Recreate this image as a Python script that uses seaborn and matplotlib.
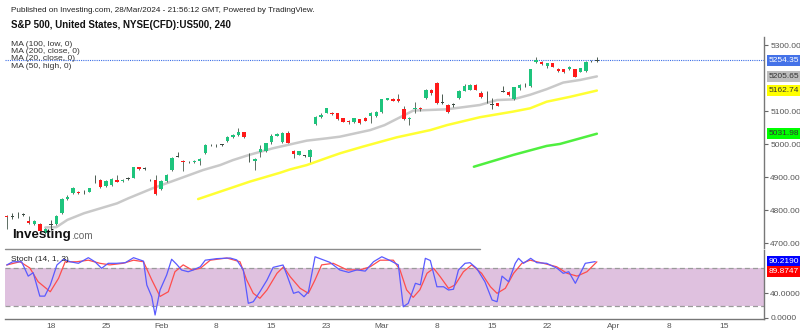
import matplotlib
matplotlib.use("Agg")
import matplotlib.pyplot as plt
from matplotlib.lines import Line2D
import seaborn as sns
import numpy as np
import pandas as pd

# ---------------- data ----------------
opens = [4784, 4780, 4788, 4789, 4767, 4759, 4760, 4731, 4756, 4758,
         4792, 4835, 4852, 4856, 4855, 4856, 4888, 4891, 4874, 4876,
         4892, 4889, 4896, 4899, 4930, 4926, 4893, 4892, 4865, 4889,
         4922, 4962, 4950, 4946, 4946, 4950, 4975, 4997, 4998, 4998,
         5010, 5021, 5028, 5036, 4953, 4950, 4978, 4980, 5008, 5026,
         5006, 5035, 4980, 4969, 4966, 4962, 5060, 5084, 5096, 5096,
         5094, 5079, 5072, 5067, 5076, 5079, 5087, 5086, 5098, 5135,
         5137, 5137, 5107, 5076, 5108, 5111, 5141, 5164, 5187, 5125,
         5119, 5120, 5139, 5162, 5165, 5180, 5154, 5154, 5121, 5124,
         5160, 5159, 5137, 5170, 5176, 5177, 5248, 5249, 5238, 5245,
         5228, 5227, 5228, 5227, 5220, 5222, 5252, 5253]
closes = [4779, 4782, 4789, 4787, 4761, 4767, 4738, 4742, 4758, 4783,
          4834, 4841, 4867, 4851, 4856, 4867, 4889, 4870, 4890, 4895,
          4887, 4893, 4897, 4930, 4924, 4927, 4891, 4848, 4889, 4907,
          4958, 4963, 4946, 4947, 4950, 4955, 4998, 4998, 4997, 5000,
          5023, 5029, 5037, 5023, 4952, 4955, 4985, 5003, 5025, 5031,
          5035, 5005, 4970, 4979, 4965, 4983, 5083, 5089, 5109, 5091,
          5077, 5068, 5067, 5079, 5064, 5072, 5096, 5099, 5136, 5139,
          5132, 5130, 5076, 5081, 5111, 5106, 5164, 5154, 5124, 5126,
          5099, 5121, 5162, 5177, 5179, 5165, 5142, 5156, 5119, 5117,
          5161, 5149, 5173, 5180, 5177, 5227, 5255, 5242, 5245, 5235,
          5222, 5218, 5233, 5205, 5230, 5249, 5253, 5254.35]
highs = [4786, 4791, 4795, 4792, 4784, 4770, 4762, 4745, 4770, 4785,
         4836, 4845, 4872, 4858, 4860, 4869, 4906, 4894, 4892, 4899,
         4908, 4896, 4900, 4932, 4932, 4932, 4896, 4906, 4891, 4909,
         4960, 4976, 4952, 4950, 4952, 4957, 5000, 5000, 5001, 5002,
         5025, 5031, 5048, 5038, 4973, 4958, 4998, 5005, 5030, 5033,
         5037, 5040, 4982, 4981, 4968, 4985, 5085, 5096, 5111, 5098,
         5096, 5081, 5074, 5081, 5078, 5082, 5098, 5100, 5138, 5141,
         5139, 5151, 5115, 5083, 5129, 5113, 5166, 5166, 5190, 5152,
         5121, 5126, 5164, 5182, 5182, 5182, 5161, 5161, 5139, 5126,
         5176, 5162, 5175, 5182, 5187, 5229, 5264, 5251, 5247, 5247,
         5230, 5229, 5237, 5229, 5232, 5251, 5256, 5264]
lows = [4743, 4773, 4778, 4782, 4759, 4755, 4733, 4728, 4740, 4756,
        4790, 4832, 4848, 4848, 4850, 4854, 4884, 4868, 4871, 4873,
        4885, 4886, 4893, 4897, 4921, 4921, 4889, 4846, 4860, 4887,
        4920, 4960, 4920, 4943, 4943, 4937, 4972, 4995, 4992, 4996,
        5008, 5019, 5026, 5020, 4947, 4922, 4961, 4978, 5001, 5024,
        5004, 5003, 4958, 4967, 4962, 4947, 5058, 5081, 5094, 5089,
        5073, 5066, 5061, 5065, 5062, 5070, 5064, 5084, 5096, 5133,
        5130, 5128, 5074, 5058, 5096, 5100, 5138, 5150, 5122, 5123,
        5094, 5114, 5137, 5160, 5163, 5163, 5140, 5126, 5107, 5115,
        5157, 5147, 5135, 5164, 5174, 5175, 5246, 5240, 5232, 5233,
        5220, 5216, 5226, 5203, 5218, 5220, 5250, 5250]

ma20_bar = [7, 9, 11, 14, 17, 20, 22, 26.5, 31, 35.6, 38.7, 41, 44, 48.3, 54.4,
            58, 60.4, 65.9, 68.5, 73.7, 79.8, 85.8, 88.9, 91.8, 94.9, 97.9, 100.9, 104, 107]
ma20_val = [4748, 4749, 4771, 4791, 4806, 4821, 4836, 4867, 4894, 4922, 4937, 4952, 4968, 4988, 5011,
            5018, 5023, 5043, 5058, 5102, 5106, 5119, 5134, 5136, 5150, 5167, 5187, 5195, 5205.65]
ma50_bar = [34.7, 44.1, 49.6, 51.4, 54.4, 58.6, 60.5, 64.6, 70.7, 76.8, 79.8, 85.8, 91.8, 94.9, 97.9, 102.2, 107]
ma50_val = [4834, 4887, 4914, 4924, 4937, 4962, 4973, 4993, 5021, 5043, 5058, 5082, 5099, 5109, 5129, 5144, 5162.74]
ma100_bar = [84.7, 91.9, 97.9, 100.3, 107]
ma100_val = [4932, 4968, 4995, 5001, 5031.98]

k_bar = [0, 1.1, 2.7, 3.9, 4.8, 6.0, 6.9, 7.9, 9.1, 10.3, 11.5, 13.0, 14.8, 16.0, 17.2, 18.4, 19.9,
         21.5, 23.0, 24.8, 25.4, 26.3, 26.9, 27.8, 29.0, 29.9, 30.8, 31.7, 32.9, 33.8, 35.1, 36.0,
         38.1, 40.5, 41.7, 42.9, 43.8, 44.7, 45.9, 47.2, 48.3, 50.1, 50.8, 52.0, 52.9, 53.9, 54.7,
         55.9, 57.1, 58.6, 60.4, 62.0, 63.5, 65.0, 66.5, 68.0, 69.5, 71.0, 71.9, 72.8, 74.1, 75.0,
         75.9, 76.8, 78.0, 79.2, 80.1, 81.0, 81.9, 83.1, 84.0, 85.2, 86.7, 88.0, 88.9, 89.8, 91.0,
         92.2, 92.8, 93.7, 95.0, 96.1, 97.9, 99.8, 100.9, 101.9, 103.1, 104.9, 106.7]
k_val = [84.8, 90, 90, 67, 72.5, 35, 35, 52.8, 84.8, 94, 90, 87.5, 96.5, 90, 79.5, 87.5, 87.5,
         88.5, 96.5, 91, 52.8, 34, 4.8, 44.8, 68.8, 94, 86, 76.8, 74, 76.8, 82, 92.5,
         95, 96, 93, 76.8, 23.5, 26, 42, 60.8, 81, 84.8, 68.8, 39.5, 42, 34, 42,
         98, 94, 89, 76.8, 73, 77, 75, 90, 98, 92, 85, 18, 23.5, 55.5, 53,
         95.5, 92, 50, 50, 44.8, 46, 76.8, 87.5, 88.5, 79.5, 58, 28.8, 26, 67, 58,
         87.5, 95.5, 87.5, 95.5, 88.5, 87.5, 79.5, 71.5, 74, 55.5, 87.5, 90.219]
d_bar = [0, 2.4, 4.2, 5.7, 7.9, 9.4, 10.6, 12.7, 14.8, 16.9, 18.7, 21.1, 23.0, 24.8, 26.3, 27.8,
         29.3, 30.5, 32.0, 33.6, 35.1, 36.9, 39.9, 42.3, 43.5, 44.7, 45.9, 47.2, 49.0, 50.2, 51.4,
         53.2, 54.7, 55.9, 57.1, 59.2, 61.7, 64.1, 65.9, 67.7, 70.1, 71.3, 72.5, 73.7, 74.9, 76.2,
         77.4, 78.6, 80.1, 81.3, 82.8, 84.3, 86.1, 87.7, 88.9, 90.4, 91.9, 93.4, 94.9, 97.3, 99.7,
         101.6, 103.4, 105.2, 107]
d_val = [84.8, 90, 80, 58, 42, 63.5, 90, 90, 92.5, 87.5, 85, 87.5, 92.5, 90, 61, 34.5,
         42, 74, 85, 76.8, 79.5, 92.5, 96, 90, 61, 39.5, 31.5, 45, 71.5, 82, 66,
         47.5, 39.5, 61, 85, 87.5, 77, 77, 82, 92.5, 92.5, 77, 45, 33, 45, 71.5,
         79.5, 66, 47.5, 53, 74, 85, 71.5, 50, 39.5, 47.5, 71.5, 87.5, 92.5, 87.5, 82,
         71.5, 67, 74, 89.8747]

date_tick_bars = [8, 18, 28, 38, 48, 58, 68, 78, 88, 98, 110, 120, 130]
date_tick_labels = ["18", "25", "Feb", "8", "15", "23", "Mar", "8", "15", "22", "Apr", "8", "15"]
price_ticks = [4700, 4800, 4900, 5000, 5100, 5300]
stoch_ticks = [0, 40]
last_price = 5254.35
ma_labels = ["MA (100, low, 0)", "MA (200, close, 0)", "MA (20, close, 0)", "MA (50, high, 0)"]

# ---------------- figure ----------------
sns.set_theme(style="white")
plt.rcParams['font.family'] = ['Liberation Sans', 'DejaVu Sans']

W, H = 800, 334
fig = plt.figure(figsize=(8, 3.34), dpi=100)
fig.patch.set_facecolor("white")

X0, X1 = 5, 764
ax = fig.add_axes([X0 / W, 1 - 248 / H, (X1 - X0) / W, (248 - 37) / H])
axs = fig.add_axes([X0 / W, 1 - 319 / H, (X1 - X0) / W, (319 - 250) / H])
XL = (-0.31, 137.3)

UP, DN, DOJI = "#1EC47D", "#FF1A1A", "#3d4a42"
bars = pd.DataFrame({"o": opens, "h": highs, "l": lows, "c": closes})
bars["i"] = np.arange(len(bars))
for _, r in bars.iterrows():
    diff = r.c - r.o
    if abs(diff) < 2.5:
        col = DOJI
        wcol = "#4a5a50"
    else:
        col = UP if diff > 0 else DN
        wcol = "#5d6e63"
    ax.vlines(r.i, r.l, r.h, color=wcol, lw=0.7, zorder=2)
    h = max(abs(diff), 2.2)
    ax.bar(r.i, h, bottom=min(r.o, r.c) - (h - abs(diff)) / 2, width=0.62,
           color=col, edgecolor="none", zorder=3)

ma20 = pd.DataFrame({"bar": ma20_bar, "val": ma20_val})
ma50 = pd.DataFrame({"bar": ma50_bar, "val": ma50_val})
ma100 = pd.DataFrame({"bar": ma100_bar, "val": ma100_val})
sns.lineplot(data=ma20, x="bar", y="val", ax=ax, color="#C9C9C9", lw=1.8, sort=False, zorder=1)
sns.lineplot(data=ma50, x="bar", y="val", ax=ax, color="#FFFF33", lw=1.8, sort=False, zorder=1)
sns.lineplot(data=ma100, x="bar", y="val", ax=ax, color="#4FEF3F", lw=1.8, sort=False, zorder=1)

ax.axhline(last_price, color="#3D6FE6", lw=0.8, ls=(0, (1, 1)), zorder=1)

ax.set_xlim(*XL)
ax.set_ylim(4685.8, 5325)
ax.set_xlabel("")
ax.set_ylabel("")
ax.set_xticks([])
ax.yaxis.tick_right()
ax.set_yticks(price_ticks)
ax.set_yticklabels([f"{v:.2f}" for v in price_ticks])
ax.tick_params(axis="y", which="both", right=True, length=3, width=0.8, color="#666",
               labelsize=6, labelcolor="#555", pad=1.5)
for s in ["top", "left", "bottom"]:
    ax.spines[s].set_visible(False)
ax.spines["right"].set_color("#777")
ax.spines["right"].set_linewidth(1)
ax.patch.set_alpha(0)

def price_box(axis, y, text, fc, tc, dy=0):
    axis.annotate(text, xy=(1, y), xycoords=("axes fraction", "data"),
                  xytext=(3.5, dy), textcoords="offset points", fontsize=6, color=tc,
                  va="center", ha="left", annotation_clip=False,
                  bbox=dict(boxstyle="square,pad=0.22", fc=fc, ec="none"))
    axis.annotate("", xy=(1, y), xycoords=("axes fraction", "data"))

price_box(ax, last_price, f"{last_price:.2f}", "#4472E8", "white")
price_box(ax, ma20_val[-1], f"{ma20_val[-1]:.2f}", "#BDBDBD", "#333")
price_box(ax, ma50_val[-1], f"{ma50_val[-1]:.2f}", "#FFFF00", "#333")
price_box(ax, ma100_val[-1], f"{ma100_val[-1]:.2f}", "#00FF00", "#333")

# stochastic pane
axs.axhspan(20, 80, color="#DFC1DF", zorder=0, lw=0)
axs.axhline(80, color="#9a9a9a", lw=0.9, ls=(0, (4, 2.5)), zorder=1)
axs.axhline(20, color="#9a9a9a", lw=0.9, ls=(0, (4, 2.5)), zorder=1)
kd = pd.DataFrame({"bar": k_bar, "val": k_val})
dd = pd.DataFrame({"bar": d_bar, "val": d_val})
sns.lineplot(data=dd, x="bar", y="val", ax=axs, color="#FF4D4D", lw=0.9, sort=False, zorder=3)
sns.lineplot(data=kd, x="bar", y="val", ax=axs, color="#5A5AFF", lw=0.9, sort=False, zorder=4)
axs.set_xlim(*XL)
axs.set_ylim(-1.6, 108.8)
axs.set_xlabel("")
axs.set_ylabel("")
axs.set_xticks(date_tick_bars)
axs.set_xticklabels(date_tick_labels)
axs.yaxis.tick_right()
axs.set_yticks(stoch_ticks)
axs.set_yticklabels([f"{v:.4f}" for v in stoch_ticks])
axs.tick_params(axis="y", right=True, length=3, width=0.8, color="#666",
                labelsize=6, labelcolor="#555", pad=1.5)
axs.tick_params(axis="x", bottom=False, length=0, labelsize=6, labelcolor="#555", pad=3)
for s in ["top", "left"]:
    axs.spines[s].set_visible(False)
axs.spines["right"].set_color("#777")
axs.spines["bottom"].set_color("#777")
axs.spines["right"].set_linewidth(1)
axs.spines["bottom"].set_linewidth(1)
axs.patch.set_alpha(0)

price_box(axs, k_val[-1], f"{k_val[-1]:.4f}", "#0000FF", "white")
price_box(axs, d_val[-1], f"{d_val[-1]:.4f}", "#FF0000", "white", dy=-7.2)

# separator line below main pane
fig.add_artist(Line2D([5 / W, 480 / W], [1 - 248.7 / H] * 2, color="#8c8c8c", lw=1))

# texts
fig.text(11 / W, 1 - 10 / H, "Published on Investing.com, 28/Mar/2024 - 21:56:12 GMT, Powered by TradingView.",
         fontsize=5.9, color="#222", va="center", ha="left")
fig.text(11 / W, 1 - 25 / H, "S&P 500, United States, NYSE(CFD):US500, 240",
         fontsize=7.0, fontweight="bold", color="#111", va="center", ha="left")
for k, t in enumerate(ma_labels):
    fig.text(11 / W, 1 - (44.3 + 7.3 * k) / H, t, fontsize=6.1, color="#333", va="center", ha="left")
fig.text(11 / W, 1 - 259.3 / H, "Stoch (14, 1, 3)", fontsize=6, color="#222", va="center", ha="left")
logo = fig.text(12 / W, 1 - 235 / H, "Investing", fontsize=9.6, fontweight="bold", color="#111",
                va="center", ha="left")
fig.canvas.draw()
bb = logo.get_window_extent(renderer=fig.canvas.get_renderer())
fig.text(bb.x1 / W + 0.5 / W, 1 - 236 / H, ".com", fontsize=7.2, color="#666", va="center", ha="left")

fig.savefig("out.png", dpi=100, facecolor="white")
